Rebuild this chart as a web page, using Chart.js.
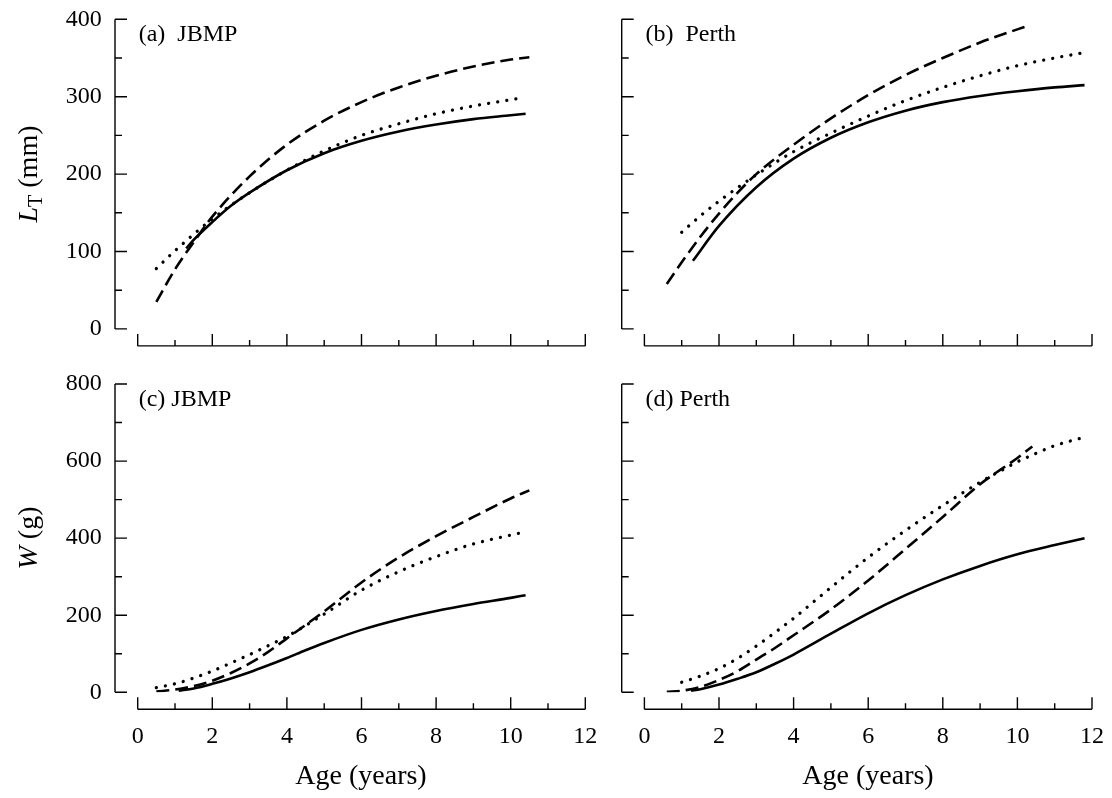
<!DOCTYPE html>
<html>
<head>
<meta charset="utf-8">
<title>Growth curves</title>
<script src="https://cdn.jsdelivr.net/npm/chart.js@4.4.1/dist/chart.umd.min.js"></script>
<style>
    html, body { margin: 0; padding: 0; background: #fff; }
    #figure {
        position: relative;
        width: 1112px;
        height: 798px;
        font-family: 'Liberation Serif', 'Times New Roman', serif;
        color: #000;
    }
    #figure canvas { position: absolute; left: 0; top: 0; }
    .axis-title {
        position: absolute;
        font-size: 28px;
        line-height: 1;
        white-space: nowrap;
    }
    .axis-title.y { transform: translate(-50%, -50%) rotate(-90deg); }
    .axis-title.x { transform: translate(-50%, -50%); }
    .axis-title sub { font-size: 20px; vertical-align: -5px; line-height: 0; }
</style>
</head>
<body>
<div id="figure">
    <canvas id="panel-a" width="1112" height="798"></canvas>
    <canvas id="panel-b" width="1112" height="798"></canvas>
    <canvas id="panel-c" width="1112" height="798"></canvas>
    <canvas id="panel-d" width="1112" height="798"></canvas>
    <div class="axis-title y" style="left:28px; top:174px;"><i>L</i><sub>T</sub> (mm)</div>
    <div class="axis-title y" style="left:28px; top:538px;"><i>W</i> (g)</div>
    <div class="axis-title x" style="left:361px; top:775px;">Age (years)</div>
    <div class="axis-title x" style="left:868px; top:775px;">Age (years)</div>
</div>

<script>
/**
 * Length- and weight-at-age curves, JBMP and Perth
 * solid / dashed / dotted = three growth fits per site
 */

// (a) JBMP, total length (mm)
const ageA_solid  = [1.3, 1.5, 2, 2.5, 3, 4, 5, 6, 7, 8, 9, 10, 10.4];
const lenA_solid  = [104, 115, 138, 159, 176, 205, 227, 243, 255, 264, 271, 276, 278];
const ageA_dashed = [0.5, 1, 1.5, 2, 3, 4, 5, 6, 7, 8, 9, 10, 10.5];
const lenA_dashed = [35, 77, 112, 145, 197, 238, 269, 293, 312, 327, 339, 348, 351];
const ageA_dotted = [0.5, 1, 2, 3, 4, 5, 6, 7, 8, 9, 10, 10.35];
const lenA_dotted = [78, 101, 142, 176, 205, 230, 250, 265, 278, 288, 296, 299];

// (b) Perth, total length (mm)
const ageB_solid  = [1.3, 2, 3, 4, 5, 6, 7, 8, 9, 10, 11, 11.8];
const lenB_solid  = [88, 133, 183, 220, 247, 267, 282, 293, 301, 307, 312, 315];
const ageB_dashed = [0.6, 1, 1.5, 2, 2.5, 3, 4, 5, 6, 7, 8, 9, 10, 10.25];
const lenB_dashed = [58, 86, 119, 149, 176, 200, 238, 272, 302, 328, 350, 370, 387, 391];
const ageB_dotted = [1, 1.5, 2, 3, 4, 5, 6, 7, 8, 9, 10, 11, 11.8];
const lenB_dotted = [125, 146, 165, 199, 229, 253, 275, 295, 312, 327, 340, 350, 357];

// (c) JBMP, weight (g)
const ageC_solid  = [1.1, 1.5, 2, 2.5, 3, 3.5, 4, 4.5, 5, 6, 7, 8, 9, 10, 10.4];
const wtC_solid   = [4, 10, 22, 36, 52, 70, 89, 109, 128, 162, 189, 211, 229, 245, 252];
const ageC_dashed = [0.5, 1, 1.5, 2, 2.5, 3, 3.5, 4, 5, 6, 7, 8, 9, 10, 10.5];
const wtC_dashed  = [2, 7, 16, 30, 50, 75, 105, 140, 210, 285, 350, 405, 455, 503, 524];
const ageC_dotted = [0.5, 1, 1.5, 2, 2.5, 3, 3.5, 4, 5, 6, 7, 8, 9, 10, 10.4];
const wtC_dotted  = [12, 22, 37, 55, 76, 98, 121, 145, 203, 265, 313, 352, 385, 408, 416];

// (d) Perth, weight (g)
const ageD_solid  = [1.25, 1.5, 2, 2.5, 3, 3.5, 4, 5, 6, 7, 8, 9, 10, 11, 11.8];
const wtD_solid   = [4, 8, 20, 35, 52, 74, 98, 152, 205, 252, 293, 328, 358, 382, 400];
const ageD_dashed = [0.6, 1, 1.5, 2, 2.5, 3, 3.5, 4, 5, 6, 7, 8, 9, 10, 10.4];
const wtD_dashed  = [1, 4, 14, 32, 55, 85, 115, 148, 215, 290, 372, 455, 540, 608, 638];
const ageD_dotted = [1, 1.5, 2, 2.5, 3, 3.5, 4, 5, 6, 7, 8, 9, 9.5, 10, 10.5, 11, 11.8];
const wtD_dotted  = [26, 42, 62, 88, 120, 155, 192, 272, 350, 420, 485, 545, 572, 598, 620, 640, 662];

// axis ranges and tick steps
const ageTicks = [0, 2, 4, 6, 8, 10, 12];
const lengthMax = 400;
const weightMax = 800;

const FONT = "'Liberation Serif', 'Times New Roman', serif";
const W = 1112, H = 798;
const SCALE_BOX = 100;

const LINE_STYLES = {
    solid:  { borderWidth: 2.6, borderDash: [], borderCapStyle: 'butt' },
    dashed: { borderWidth: 2.6, borderDash: [13, 6], borderCapStyle: 'butt' },
    dotted: { borderWidth: 3.3, borderDash: [0.01, 9.2], borderCapStyle: 'round' }
};

/**
 * Draws the detached axis lines, their tick marks and the panel tag
 */
const frameAxes = {
    id: 'frameAxes',
    afterDraw(chart, args, opts) {
        const { ctx, chartArea } = chart;
        const xs = chart.scales.x;
        const ys = chart.scales.y;
        const axisX = chartArea.left - opts.yGap;
        const axisY = chartArea.bottom + opts.xGap;

        ctx.save();
        ctx.strokeStyle = '#000';
        ctx.lineWidth = 1.4;
        ctx.beginPath();

        // vertical axis, ticks pointing into the plot
        ctx.moveTo(axisX, ys.getPixelForValue(ys.min));
        ctx.lineTo(axisX, ys.getPixelForValue(ys.max));
        for (let v = ys.min; v <= ys.max; v += opts.yMinor) {
            const py = ys.getPixelForValue(v);
            ctx.moveTo(axisX, py);
            ctx.lineTo(axisX + (v % opts.yMajor === 0 ? 12 : 7), py);
        }

        // horizontal axis, ticks pointing up
        ctx.moveTo(xs.getPixelForValue(xs.min), axisY);
        ctx.lineTo(xs.getPixelForValue(xs.max), axisY);
        for (let v = xs.min; v <= xs.max; v += 1) {
            const px = xs.getPixelForValue(v);
            ctx.moveTo(px, axisY);
            ctx.lineTo(px, axisY - (v % 2 === 0 ? 12 : 6));
        }
        ctx.stroke();

        ctx.fillStyle = '#000';
        ctx.font = '24px ' + FONT;
        ctx.textBaseline = 'alphabetic';
        ctx.fillText(opts.tag, chartArea.left + 1, chartArea.top + 21.5);
        ctx.restore();
    }
};

// tick labels are pushed off the plot with an invisible tick length,
// so the scale does not reserve extra room above and below
function hiddenGrid(offset) {
    return { display: false, drawTicks: true, tickLength: offset, color: 'rgba(0,0,0,0)' };
}

/**
 * Build one panel; area gives the plot box in page pixels
 */
function makePanel(id, area, yMax, yMajor, showX, showY, tag, series) {
    const datasets = series.map(s => Object.assign({
        data: s.ages.map((a, i) => ({ x: a, y: s.values[i] })),
        borderColor: '#000',
        pointRadius: 0,
        fill: false,
        cubicInterpolationMode: 'monotone'
    }, LINE_STYLES[s.style]));

    new Chart(document.getElementById(id), {
        type: 'line',
        data: { datasets: datasets },
        options: {
            responsive: false,
            animation: false,
            events: [],
            layout: {
                padding: {
                    left: area.left - SCALE_BOX,
                    top: area.top,
                    right: W - area.right,
                    bottom: H - area.bottom - SCALE_BOX
                }
            },
            plugins: {
                legend: { display: false },
                tooltip: { enabled: false },
                frameAxes: { tag: tag, yGap: 22.7, xGap: 17, yMajor: yMajor, yMinor: yMajor / 2 }
            },
            scales: {
                x: {
                    type: 'linear',
                    min: ageTicks[0],
                    max: ageTicks[ageTicks.length - 1],
                    afterFit: s => { s.height = SCALE_BOX; },
                    grid: hiddenGrid(30),
                    border: { display: false },
                    ticks: {
                        display: showX,
                        stepSize: ageTicks[1] - ageTicks[0],
                        padding: 0,
                        color: '#000',
                        font: { family: FONT, size: 24 }
                    }
                },
                y: {
                    type: 'linear',
                    min: 0,
                    max: yMax,
                    afterFit: s => { s.width = SCALE_BOX; },
                    grid: hiddenGrid(36),
                    border: { display: false },
                    ticks: {
                        display: showY,
                        stepSize: yMajor,
                        padding: 0,
                        color: '#000',
                        font: { family: FONT, size: 24 }
                    }
                }
            }
        },
        plugins: [frameAxes]
    });
}

const topRow    = { top: 19.3, bottom: 328.9 };
const bottomRow = { top: 384, bottom: 692.3 };
const leftCol   = { left: 137.7, right: 585.3 };
const rightCol  = { left: 644.4, right: 1092 };

makePanel('panel-a', Object.assign({}, leftCol, topRow), lengthMax, 100, false, true, '(a)  JBMP', [
    { ages: ageA_solid,  values: lenA_solid,  style: 'solid' },
    { ages: ageA_dashed, values: lenA_dashed, style: 'dashed' },
    { ages: ageA_dotted, values: lenA_dotted, style: 'dotted' }
]);
makePanel('panel-b', Object.assign({}, rightCol, topRow), lengthMax, 100, false, false, '(b)  Perth', [
    { ages: ageB_solid,  values: lenB_solid,  style: 'solid' },
    { ages: ageB_dashed, values: lenB_dashed, style: 'dashed' },
    { ages: ageB_dotted, values: lenB_dotted, style: 'dotted' }
]);
makePanel('panel-c', Object.assign({}, leftCol, bottomRow), weightMax, 200, true, true, '(c) JBMP', [
    { ages: ageC_solid,  values: wtC_solid,  style: 'solid' },
    { ages: ageC_dashed, values: wtC_dashed, style: 'dashed' },
    { ages: ageC_dotted, values: wtC_dotted, style: 'dotted' }
]);
makePanel('panel-d', Object.assign({}, rightCol, bottomRow), weightMax, 200, true, false, '(d) Perth', [
    { ages: ageD_solid,  values: wtD_solid,  style: 'solid' },
    { ages: ageD_dashed, values: wtD_dashed, style: 'dashed' },
    { ages: ageD_dotted, values: wtD_dotted, style: 'dotted' }
]);
</script>
</body>
</html>
